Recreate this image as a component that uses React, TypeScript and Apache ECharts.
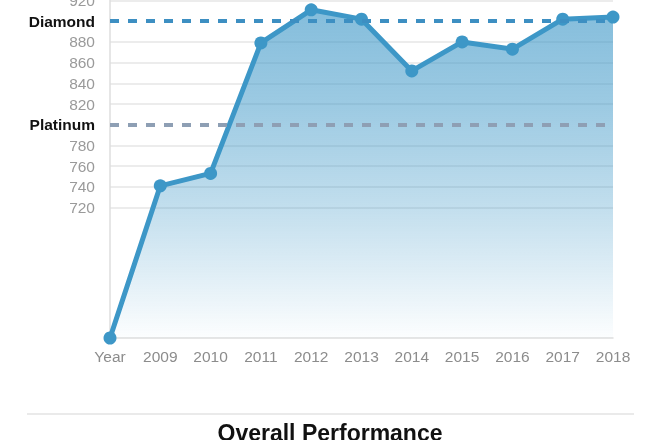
import React, { useEffect, useRef } from "react";
import * as echarts from "echarts";

const categories = ["Year", "2009", "2010", "2011", "2012", "2013", "2014", "2015", "2016", "2017", "2018"];
const scores = [594, 741, 753, 879, 911, 902, 852, 880, 873, 902, 904];
const yMin = 594;
const yMax = 920;
const gridValues = [720, 740, 760, 780, 820, 840, 860, 880, 920];
const labelValues = [720, 740, 760, 780, 800, 820, 840, 860, 880, 900, 920];
const levelNames: Record<number, string> = { 900: "Diamond", 800: "Platinum" };
const levels = [
  { value: 900, color: "#3d8fc2" },
  { value: 800, color: "#8e9fb4" },
];
const titleText = "Overall Performance";

const FONT = "'Liberation Sans', Arial, Helvetica, sans-serif";

export default function App() {
  const ref = useRef<HTMLDivElement>(null);
  useEffect(() => {
    if (!ref.current) return;
    const chart = echarts.init(ref.current, null, { renderer: "svg" });
    const step = 2;
    const splitColors: string[] = [];
    for (let v = yMin; v <= yMax; v += step) {
      splitColors.push(gridValues.includes(v) ? "#e6e6e6" : "rgba(0,0,0,0)");
    }
    chart.setOption({
      animation: false,
      textStyle: { fontFamily: FONT },
      grid: {
        left: 110,
        right: 47,
        top: 0.5,
        bottom: 102,
        containLabel: false,
        outerBoundsMode: "none",
      },
      xAxis: {
        type: "category",
        data: categories,
        boundaryGap: false,
        axisLine: { lineStyle: { color: "#dedede", width: 1.5 } },
        axisTick: { show: false },
        axisLabel: { color: "#8c8c8c", fontSize: 15.5, margin: 10, fontFamily: FONT },
      },
      yAxis: {
        type: "value",
        min: yMin,
        max: yMax,
        interval: step,
        axisLine: { show: true, lineStyle: { color: "#dedede", width: 1.5 } },
        axisTick: { show: false },
        splitLine: { show: true, lineStyle: { color: splitColors, width: 1.5 } },
        axisLabel: {
          margin: 15,
          fontSize: 15.5,
          color: "#9a9a9a",
          fontFamily: FONT,
          formatter: (v: number) => {
            if (!labelValues.includes(v)) return "";
            if (levelNames[v]) return "{b|" + levelNames[v] + "}";
            return String(v);
          },
          rich: {
            b: { fontWeight: "bold", color: "#111", fontSize: 15.5, fontFamily: FONT },
          },
        },
      },
      series: [
        {
          type: "line",
          data: scores,
          symbol: "circle",
          symbolSize: 13,
          lineStyle: { color: "#3d97c7", width: 5 },
          itemStyle: { color: "#3d97c7" },
          areaStyle: {
            color: new echarts.graphic.LinearGradient(0, 0, 0, 1, [
              { offset: 0, color: "rgba(61,151,199,0.9)" },
              { offset: 0.3, color: "rgba(61,151,199,0.72)" },
              { offset: 0.6, color: "rgba(61,151,199,0.45)" },
              { offset: 1, color: "rgba(61,151,199,0.02)" },
            ]),
          },
          markLine: {
            silent: true,
            symbol: ["none", "none"],
            label: { show: false },
            data: levels.map((l) => ({
              yAxis: l.value,
              lineStyle: { color: l.color, type: [9, 9], width: 4 },
            })),
          },
        },
      ],
      graphic: [
        {
          type: "line",
          shape: { x1: 27, y1: 414, x2: 634, y2: 414 },
          style: { stroke: "#e3e3e3", lineWidth: 1.5 },
        },
        {
          type: "text",
          x: 330,
          y: 433,
          style: {
            text: titleText,
            textAlign: "center",
            textVerticalAlign: "middle",
            font: "bold 23px " + FONT,
            fill: "#111",
          },
        },
      ],
    });
    return () => chart.dispose();
  }, []);
  return (
    <div
      ref={ref}
      style={{ position: "fixed", left: 0, top: 0, width: 660, height: 440 }}
    />
  );
}
